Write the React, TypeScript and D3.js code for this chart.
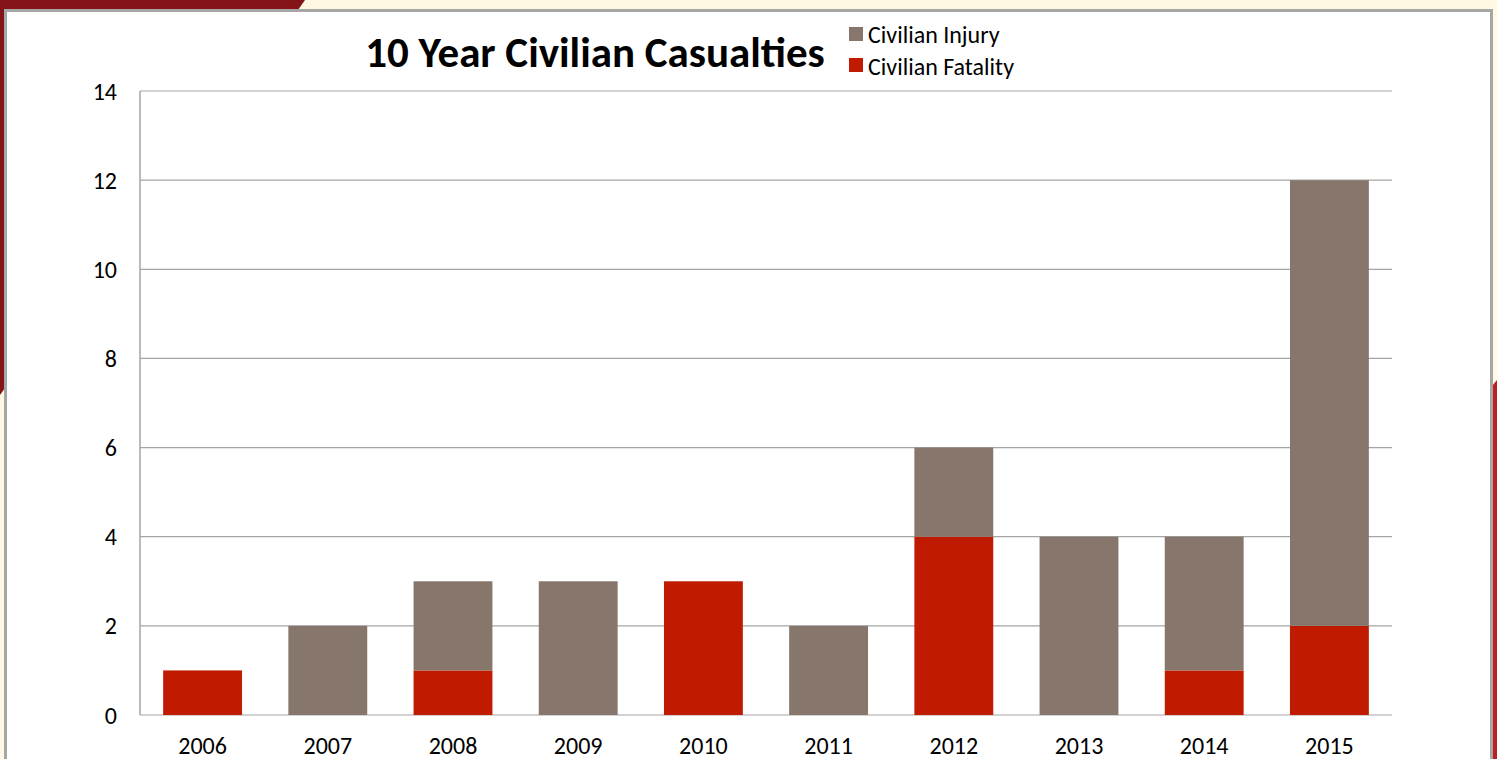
import React from "react";
import * as d3 from "d3";

const years = ["2006", "2007", "2008", "2009", "2010", "2011", "2012", "2013", "2014", "2015"];
const fatality = [1, 0, 1, 0, 3, 0, 4, 0, 1, 2];
const injury = [0, 2, 2, 3, 0, 2, 2, 4, 3, 10];
const yTicks = [0, 2, 4, 6, 8, 10, 12, 14];
const seriesNames = ["Civilian Injury", "Civilian Fatality"];
const seriesColors = ["#86766B", "#C01B00"];

const W = 1497;
const H = 759;
const FONT = "Carlito, Lato, 'Open Sans', sans-serif";

export default function App() {
  const x = d3.scaleBand().domain(years).range([140, 1392]).paddingInner(0.37).paddingOuter(0.185);
  const y = d3.scaleLinear().domain([0, 14]).range([715, 91]);
  const rows = years.map((yr, i) => ({ year: yr, fatality: fatality[i], injury: injury[i] }));
  const stack = d3.stack<any>().keys(["fatality", "injury"])(rows);
  const colorFor: Record<string, string> = { injury: seriesColors[0], fatality: seriesColors[1] };

  return (
    <svg width={W} height={H} style={{ position: "absolute", left: 0, top: 0 }}>
      <rect x={0} y={0} width={W} height={H} fill="#FFF9E4" />
      <polygon points="0,0 305,0 298,10 0,10" fill="#841417" />
      <polygon points="0,0 5,0 5,388 0,395" fill="#841417" />
      <polygon points="1492,386 1497,380 1497,759 1492,759" fill="#BC2025" />
      <rect x={5.5} y={10.5} width={1486} height={760} fill="#ffffff" stroke="#A6A6A6" strokeWidth={3} />

      {yTicks.map((t) => (
        <g key={t}>
          <line x1={140} x2={1392} y1={y(t)} y2={y(t)} stroke="#A5A5A5" strokeWidth={1.2} />
          <text x={117} y={y(t) + 8.5} textAnchor="end" fontFamily={FONT} fontSize={24} fill="#000">
            {t}
          </text>
        </g>
      ))}
      <line x1={140} x2={140} y1={91} y2={715} stroke="#A5A5A5" strokeWidth={1.5} />

      {stack.map((s) => (
        <g key={s.key}>
          {s.map((d, i) =>
            d[1] - d[0] > 0 ? (
              <rect
                key={i}
                x={x(years[i])}
                width={x.bandwidth()}
                y={y(d[1])}
                height={y(d[0]) - y(d[1])}
                fill={colorFor[s.key]}
              />
            ) : null
          )}
        </g>
      ))}

      {years.map((yr) => (
        <text key={yr} x={(x(yr) as number) + x.bandwidth() / 2} y={754} textAnchor="middle" fontFamily={FONT} fontSize={24} fill="#000">
          {yr}
        </text>
      ))}

      <text x={595} y={67} textAnchor="middle" fontFamily={FONT} fontWeight="bold" fontSize={43} fill="#000">
        10 Year Civilian Casualties
      </text>

      {seriesNames.map((n, i) => (
        <g key={n}>
          <rect x={849} y={27 + i * 31} width={14} height={14} fill={seriesColors[i]} />
          <text x={868} y={43 + i * 32} fontFamily={FONT} fontSize={24} fill="#000">
            {n}
          </text>
        </g>
      ))}
    </svg>
  );
}
